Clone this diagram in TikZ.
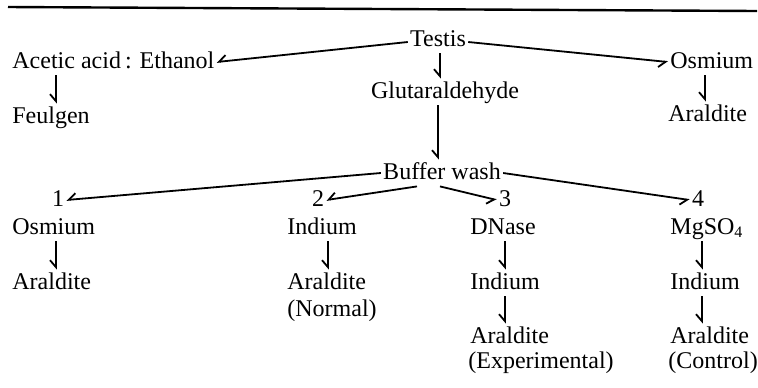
\documentclass[tikz,border=0pt]{standalone}
\usepackage{fontspec}
\setmainfont{Liberation Serif}
\usetikzlibrary{arrows.meta}
\begin{document}
\begin{tikzpicture}[x=0.5pt,y=-0.5pt,
  lbl/.style={inner sep=1pt, text height=8.5pt, text depth=2.5pt, font=\fontsize{12}{14}\selectfont},
  arr/.style={line width=0.9pt, -{Straight Barb[right,length=3.5pt,width=6pt]}}]
\useasboundingbox (0,0) rectangle (758,387);
\draw[line width=1.2pt] (8,7) -- (757,11);
% top level
\node[lbl] (testis) at (438,40) {Testis};
\node[lbl,anchor=west] (acetic) at (10,62) {Acetic acid\,: Ethanol};
\node[lbl,anchor=west] (osm0) at (668,62) {Osmium};
\node[lbl] (glut) at (445,92) {Glutaraldehyde};
\node[lbl,anchor=west] (feul) at (10,117) {Feulgen};
\node[lbl,anchor=west] (ara0) at (666,115) {Araldite};
\node[lbl] (buf) at (442,173) {Buffer wash};
% numbers
\node[lbl] (n1) at (58,200) {1};
\node[lbl] (n2) at (318,200) {2};
\node[lbl] (n3) at (505,200) {3};
\node[lbl] (n4) at (698,200) {4};
% reagents
\node[lbl,anchor=west] (osm1) at (10,228) {Osmium};
\node[lbl,anchor=west] (ind2) at (285,228) {Indium};
\node[lbl,anchor=west] (dna3) at (468,228) {DNase};
\node[lbl,anchor=west] (mg4) at (668,228) {MgSO\textsubscript{4}};
\node[lbl,anchor=west] (ara1) at (10,283) {Araldite};
\node[lbl,anchor=west] (ara2) at (285,283) {Araldite};
\node[lbl,anchor=west] (nor2) at (285,310) {(Normal)};
\node[lbl,anchor=west] (ind3) at (468,283) {Indium};
\node[lbl,anchor=west] (ind4) at (668,283) {Indium};
\node[lbl,anchor=west] (ara3) at (468,337) {Araldite};
\node[lbl,anchor=west] (exp3) at (466,362) {(Experimental)};
\node[lbl,anchor=west] (ara4) at (668,337) {Araldite};
\node[lbl,anchor=west] (con4) at (666,362) {(Control)};
% connectors
\draw[arr] ([yshift=-1pt]testis.west) -- (acetic.east);
\draw[arr] ([yshift=-1pt]testis.east) -- (osm0.west);
\draw[arr] ([xshift=1pt]testis.south) -- ([xshift=1pt]testis.south |- glut.north);
\draw[arr] ([xshift=23pt]acetic.south west) -- ([xshift=23pt]feul.north west);
\draw[arr] ([xshift=18.5pt]osm0.south west) -- ([xshift=18.5pt]osm0.south west |- ara0.north);
\draw[arr] ([xshift=-2pt]buf.north |- glut.south) -- ([xshift=-2pt]buf.north);
\draw[arr] (buf.west) -- (n1.east);
\draw[arr] ([xshift=-12.5pt]buf.south) -- (n2.east);
\draw[arr] ([xshift=-1pt]buf.south) -- (n3.west);
\draw[arr] (buf.east) -- (n4.west);
\draw[arr] ([xshift=23pt]osm1.south west) -- ([xshift=23pt]ara1.north west);
\draw[arr] ([xshift=21.5pt]ind2.south west) -- ([xshift=21.5pt]ara2.north west);
\draw[arr] ([xshift=18.5pt]dna3.south west) -- ([xshift=18.5pt]ind3.north west);
\draw[arr] ([xshift=18.5pt]ind3.south west) -- ([xshift=18.5pt]ara3.north west);
\draw[arr] ([xshift=17pt]mg4.south west) -- ([xshift=17pt]ind4.north west);
\draw[arr] ([xshift=17pt]ind4.south west) -- ([xshift=17pt]ara4.north west);
\end{tikzpicture}
\end{document}
